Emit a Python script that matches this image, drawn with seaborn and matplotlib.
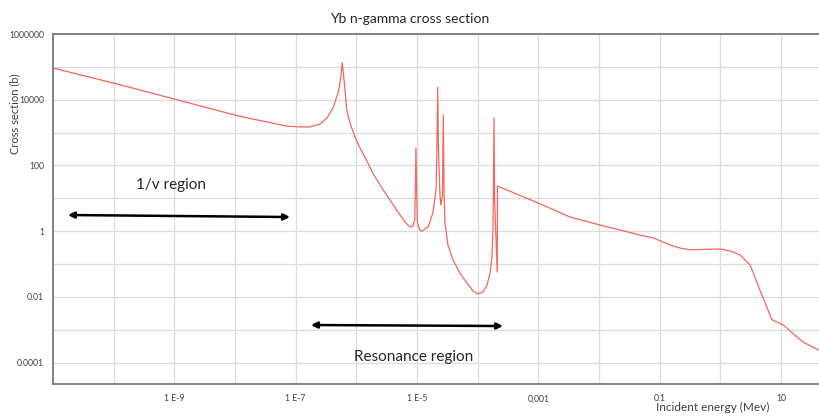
import matplotlib
matplotlib.use("Agg")
import matplotlib.pyplot as plt
from matplotlib.ticker import FixedLocator, FixedFormatter, NullLocator
import seaborn as sns
import pandas as pd

# Yb (n, gamma) capture cross section: incident energy in MeV, cross section in barns
energy_mev = [
    1.0e-11, 1.0e-10, 9.9e-10, 1.0e-8, 1.77e-8, 3.37e-8, 7.2e-8, 1.18e-7,
    1.72e-7, 2.52e-7, 3.28e-7, 4.12e-7, 4.99e-7, 5.48e-7, 5.86e-7, 6.27e-7,
    6.5e-7, 6.93e-7, 7.85e-7, 9.5e-7, 1.15e-6, 1.5e-6, 1.88e-6, 2.65e-6,
    3.59e-6, 4.86e-6, 6.34e-6, 7.67e-6, 8.6e-6, 9.2e-6, 9.6e-6, 1.01e-5,
    1.1e-5, 1.21e-5, 1.52e-5, 1.83e-5, 2.06e-5, 2.13e-5, 2.19e-5, 2.26e-5,
    2.39e-5, 2.48e-5, 2.63e-5, 2.71e-5, 2.80e-5, 2.89e-5, 3.24e-5, 3.92e-5,
    5.1e-5, 6.67e-5, 8.4e-5, 1.01e-4, 1.22e-4, 1.43e-4, 1.6e-4, 1.72e-4,
    1.79e-4, 1.86e-4, 1.90e-4, 2.10e-4, 2.12e-4, 9.9e-4, 3.3e-3, 0.0104,
    0.0222, 0.047, 0.078, 0.1135, 0.148, 0.216, 0.316, 0.99,
    1.44, 2.1, 3.1, 4.5, 7.1, 10.8, 23.0, 42.0,
]
cross_section_b = [
    9.2e4, 3.2e4, 1.05e4, 3.4e3, 2.68e3, 2.1e3, 1.58e3, 1.48e3,
    1.48e3, 1.82e3, 2.77e3, 5.6e3, 1.6e4, 4.0e4, 1.34e5, 4.0e4,
    2.0e4, 4.9e3, 1.95e3, 730, 340, 135, 57, 20.5,
    8.9, 3.8, 1.9, 1.33, 1.43, 2.2, 340, 2.0,
    1.1, 1.0, 1.33, 3.6, 18, 300, 2.4e4, 300,
    12.6, 6.2, 12.6, 3.4e3, 12.6, 1.77, 0.38, 0.132,
    0.053, 0.026, 0.015, 0.0122, 0.014, 0.023, 0.053, 0.163,
    1.08, 2.8e3, 9.0, 0.057, 23.6, 7.2, 2.7, 1.53,
    1.08, 0.76, 0.62, 0.47, 0.38, 0.305, 0.27, 0.285,
    0.25, 0.19, 0.093, 0.016, 0.002, 1.4e-3, 4.2e-4, 2.4e-4,
]

x_ticks = [1e-11, 1e-10, 1e-9, 1e-8, 1e-7, 1e-6, 1e-5, 1e-4, 1e-3, 1e-2, 1e-1, 1e0, 1e1]
x_tick_labels = ["", "", "1 E-9", "", "1 E-7", "", "1 E-5", "", "0,001", "", "0.1", "", "10"]
y_ticks = [1e-4, 1e-3, 1e-2, 1e-1, 1e0, 1e1, 1e2, 1e3, 1e4, 1e5, 1e6]
y_tick_labels = ["0.0001", "", "0.01", "", "1", "", "100", "", "10000", "", "1000000"]

df = pd.DataFrame({"energy": energy_mev, "sigma": cross_section_b})

sns.set_theme(style="white")
plt.rcParams["font.family"] = ["Lato", "DejaVu Sans"]

fig = plt.figure(figsize=(8.19, 4.17), dpi=100)
ax = fig.add_axes([53 / 819, 1 - 384 / 417, 1 - 53 / 819, (384 - 34) / 417])
ax.set(xscale="log", yscale="log")

sns.lineplot(data=df, x="energy", y="sigma", sort=False, estimator=None,
             color="#f2675c", linewidth=0.9, ax=ax)

ax.set_xlim(1e-11, 42.3)
ax.set_ylim(2.22e-5, 1e6)

ax.xaxis.set_major_locator(FixedLocator(x_ticks))
ax.xaxis.set_major_formatter(FixedFormatter(x_tick_labels))
ax.xaxis.set_minor_locator(NullLocator())
ax.yaxis.set_major_locator(FixedLocator(y_ticks))
ax.yaxis.set_major_formatter(FixedFormatter(y_tick_labels))
ax.yaxis.set_minor_locator(NullLocator())

ax.grid(True, which="major", color="#dcdcdc", linewidth=0.9)
ax.set_axisbelow(True)

for side in ("left", "bottom", "top"):
    ax.spines[side].set_visible(True)
    ax.spines[side].set_color("#7a7a7a")
    ax.spines[side].set_linewidth(1.3)
ax.spines["right"].set_visible(False)

ax.tick_params(axis="both", which="major", direction="inout", length=5, width=0.9,
               color="#7a7a7a", labelsize=6.2, labelcolor="#404040")
ax.tick_params(axis="x", pad=5)
ax.tick_params(axis="y", pad=4)

ax.set_title("Yb n-gamma cross section", fontsize=10, color="#262626", pad=8,
             x=(410 - 53) / 766)
ax.set_xlabel("Incident energy (Mev)", fontsize=8.5, color="#404040")
ax.xaxis.set_label_coords(0.8616, -0.052)
ax.set_ylabel("Cross section (b)", fontsize=8, color="#404040")
ax.yaxis.set_label_coords(-0.0425, 0.773)

arrow_style = dict(arrowstyle="<|-|>", color="black", lw=1.8,
                   mutation_scale=9, shrinkA=0, shrinkB=0)
ax.annotate("", xy=(10 ** -7.094, 10 ** 0.429), xytext=(10 ** -10.753, 10 ** 0.49),
            arrowprops=arrow_style)
ax.annotate("", xy=(10 ** -3.583, 10 ** -2.889), xytext=(10 ** -6.747, 10 ** -2.858),
            arrowprops=arrow_style)

ax.text(10 ** -9.063, 10 ** 1.403, "1/v region", fontsize=11, color="#262626",
        ha="center", va="center")
ax.text(10 ** -5.06, 10 ** -3.823, "Resonance region", fontsize=11, color="#262626",
        ha="center", va="center")

fig.savefig("out.png", dpi=100)
